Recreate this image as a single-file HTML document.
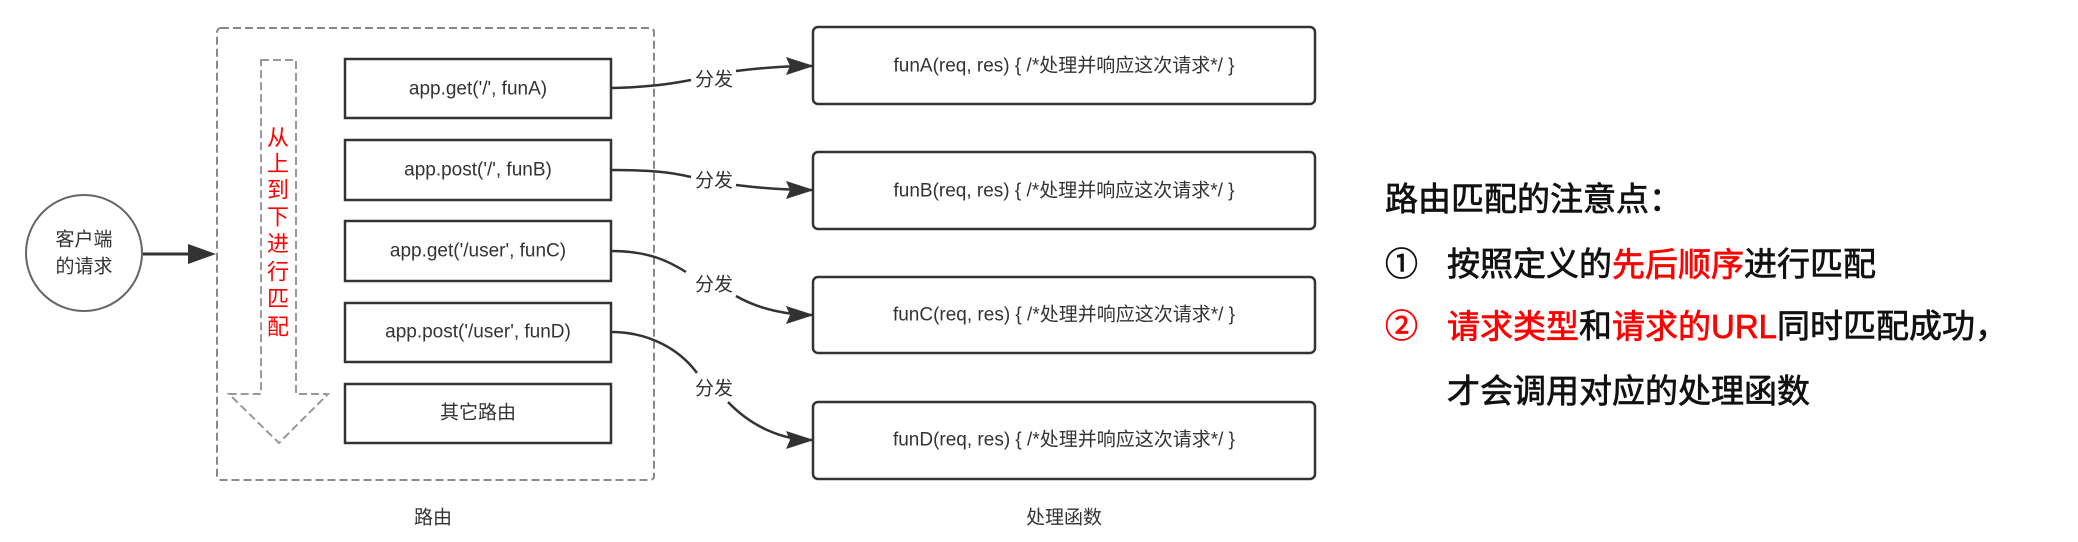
<!DOCTYPE html>
<html><head><meta charset="utf-8"><style>
html,body{margin:0;padding:0;background:#fff;}
svg{display:block}
text{font-family:"Liberation Sans","Noto Sans CJK SC",sans-serif;fill:#333}
</style></head><body>
<svg width="2078" height="542" viewBox="0 0 2078 542" xmlns="http://www.w3.org/2000/svg">
<defs>
<marker id="ah" markerWidth="28" markerHeight="18" refX="26" refY="9" orient="auto" markerUnits="userSpaceOnUse" viewBox="0 0 28 18">
<path d="M0,0 L28,9 L0,18 L4,9 Z" fill="#333"/>
</marker>
</defs>
<ellipse cx="84" cy="253" rx="58" ry="58" fill="#fff" stroke="#666" stroke-width="2"/>
<text x="84" y="240" font-size="19" text-anchor="middle" dominant-baseline="central">客户端</text>
<text x="84" y="267" font-size="19" text-anchor="middle" dominant-baseline="central">的请求</text>
<line x1="143" y1="254" x2="190" y2="254" stroke="#333" stroke-width="3"/>
<path d="M188,244 L216,254 L188,264 Z" fill="#333"/>
<rect x="217" y="28" width="437" height="452" rx="4" fill="none" stroke="#888" stroke-width="2" stroke-dasharray="8,4"/>
<path d="M261,60 L296,60 L296,394 L328,394 L279,443 L229,394 L261,394 Z" fill="none" stroke="#999" stroke-width="2" stroke-dasharray="8,4"/>
<g font-size="22" text-anchor="middle">
<text x="278" y="138" style="fill:#f00" dominant-baseline="central">从</text>
<text x="278" y="164" style="fill:#f00" dominant-baseline="central">上</text>
<text x="278" y="190" style="fill:#f00" dominant-baseline="central">到</text>
<text x="278" y="217" style="fill:#f00" dominant-baseline="central">下</text>
<text x="278" y="244" style="fill:#f00" dominant-baseline="central">进</text>
<text x="278" y="272" style="fill:#f00" dominant-baseline="central">行</text>
<text x="278" y="299" style="fill:#f00" dominant-baseline="central">匹</text>
<text x="278" y="327" style="fill:#f00" dominant-baseline="central">配</text>
</g>
<g fill="#fff" stroke="#333" stroke-width="2.5">
<rect x="345" y="59" width="266" height="59"/>
<rect x="345" y="140" width="266" height="60"/>
<rect x="345" y="221" width="266" height="60"/>
<rect x="345" y="303" width="266" height="59"/>
<rect x="345" y="384" width="266" height="59"/>
</g>
<g font-size="19" text-anchor="middle">
<text x="478" y="89" dominant-baseline="central">app.get('/', funA)</text>
<text x="478" y="170" dominant-baseline="central">app.post('/', funB)</text>
<text x="478" y="251" dominant-baseline="central">app.get('/user', funC)</text>
<text x="478" y="332" dominant-baseline="central">app.post('/user', funD)</text>
<text x="478" y="413" dominant-baseline="central">其它路由</text>
</g>
<text x="433" y="518" font-size="19" text-anchor="middle" dominant-baseline="central">路由</text>
<g fill="none" stroke="#333" stroke-width="2.5">
<path d="M611,88 C650,87 670,84 691,80"/>
<path d="M736,71 C760,68 790,66 812,66" marker-end="url(#ah)"/>
<path d="M611,170 C650,170 670,172 691,177"/>
<path d="M736,185 C760,188 790,190 812,190" marker-end="url(#ah)"/>
<path d="M611,251 C650,251 670,262 686,272"/>
<path d="M736,296 C760,310 790,315 812,315" marker-end="url(#ah)"/>
<path d="M611,332 C650,332 680,350 697,373"/>
<path d="M728,402 C750,425 780,440 812,440" marker-end="url(#ah)"/>
</g>
<g font-size="19" text-anchor="middle">
<text x="714" y="80" dominant-baseline="central">分发</text>
<text x="714" y="181" dominant-baseline="central">分发</text>
<text x="714" y="285" dominant-baseline="central">分发</text>
<text x="714" y="389" dominant-baseline="central">分发</text>
</g>
<g fill="#fff" stroke="#333" stroke-width="2.5">
<rect x="813" y="27" width="502" height="77" rx="5"/>
<rect x="813" y="152" width="502" height="77" rx="5"/>
<rect x="813" y="277" width="502" height="76" rx="5"/>
<rect x="813" y="402" width="502" height="77" rx="5"/>
</g>
<g font-size="19" text-anchor="middle">
<text x="1064" y="66" dominant-baseline="central">funA(req, res) { /*处理并响应这次请求*/ }</text>
<text x="1064" y="191" dominant-baseline="central">funB(req, res) { /*处理并响应这次请求*/ }</text>
<text x="1064" y="315" dominant-baseline="central">funC(req, res) { /*处理并响应这次请求*/ }</text>
<text x="1064" y="440" dominant-baseline="central">funD(req, res) { /*处理并响应这次请求*/ }</text>
</g>
<text x="1064" y="518" font-size="19" text-anchor="middle" dominant-baseline="central">处理函数</text>
<g font-size="33" stroke-width="0.7">
<text x="1385" y="199" style="fill:#111;stroke:#111" dominant-baseline="central">路由匹配的注意点：</text>
<text x="1385" y="264" style="fill:#111;stroke:#111" dominant-baseline="central">①</text>
<text x="1447" y="264" style="fill:#111;stroke:#111" dominant-baseline="central">按照定义的<tspan style="fill:#f00;stroke:#f00">先后顺序</tspan>进行匹配</text>
<text x="1385" y="326" style="fill:#f00;stroke:#f00" dominant-baseline="central">②</text>
<text x="1447" y="326" style="fill:#111;stroke:#111" dominant-baseline="central"><tspan style="fill:#f00;stroke:#f00">请求类型</tspan>和<tspan style="fill:#f00;stroke:#f00">请求的URL</tspan>同时匹配成功，</text>
<text x="1447" y="391" style="fill:#111;stroke:#111" dominant-baseline="central">才会调用对应的处理函数</text>
</g>
</svg>
</body></html>
